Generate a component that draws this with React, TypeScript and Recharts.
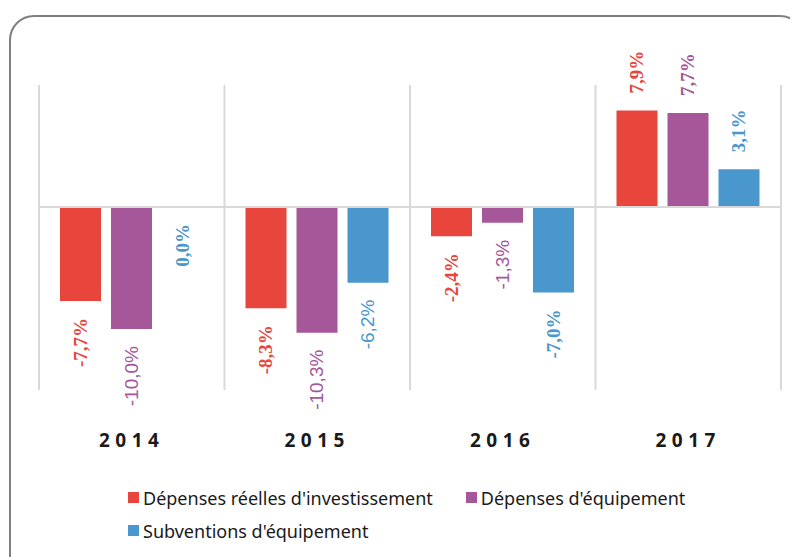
import React from "react";
import { BarChart, Bar, XAxis, YAxis, CartesianGrid, ReferenceLine, Legend, LabelList } from "recharts";

const years = ["2014", "2015", "2016", "2017"];
const depensesReelles = [-7.7, -8.3, -2.4, 7.9];
const depensesEquipement = [-10.0, -10.3, -1.3, 7.7];
const subventions = [0.0, -6.2, -7.0, 3.1];
const seriesNames = ["Dépenses réelles d'investissement", "Dépenses d'équipement", "Subventions d'équipement"];
const seriesColors = ["#E8453C", "#A5579A", "#4A97CE"];
// labels that the original draws in a sans-serif face
const sansLabelKeys = ["s1-2014", "s1-2015", "s2-2015", "s1-2016"];

const data = years.map((y, i) => ({
  year: y,
  s0: depensesReelles[i],
  s1: depensesEquipement[i],
  s2: subventions[i],
}));

const fmt = (v: number) => v.toFixed(1).replace(".", ",") + "%";

const makeLabel = (key: string, color: string) => (props: any) => {
  const { x, y, width, height, value, index } = props;
  const top = Math.min(y, y + height);
  const bottom = Math.max(y, y + height);
  const cx = x + width / 2;
  const pos = value > 0;
  const ty = pos ? top - 17 : bottom + 17;
  const sans = sansLabelKeys.includes(`${key}-${years[index]}`);
  return (
    <text
      x={cx}
      y={ty}
      fill={color}
      fontFamily={sans ? "'Liberation Sans', Arial, sans-serif" : "'Liberation Serif', 'Times New Roman', serif"}
      fontWeight={sans ? "normal" : "bold"}
      fontSize={19}
      textAnchor={pos ? "start" : "end"}
      dominantBaseline="central"
      transform={`rotate(-90, ${cx}, ${ty})`}
    >
      {fmt(value)}
    </text>
  );
};

const Tick = (props: any) => {
  const { x, y, payload } = props;
  return (
    <text
      x={x}
      y={y + 50}
      textAnchor="middle"
      dominantBaseline="central"
      fontFamily="'Noto Sans', sans-serif"
      fontWeight="bold"
      fontSize={19}
      letterSpacing={5.5}
      fill="#1a1a1a"
    >
      {payload.value}
    </text>
  );
};

const LegendContent = () => (
  <div
    style={{
      display: "flex",
      flexWrap: "wrap",
      width: 620,
      marginLeft: 89,
      fontFamily: "'Noto Sans', sans-serif",
      fontSize: 18,
      color: "#1a1a1a",
    }}
  >
    {seriesNames.map((n, i) => (
      <div key={n} style={{ display: "flex", alignItems: "center", height: 33, marginRight: 33 }}>
        <span style={{ width: 11, height: 11, background: seriesColors[i], marginRight: 4, display: "inline-block" }} />
        <span>{n}</span>
      </div>
    ))}
  </div>
);

export default function App() {
  return (
    <div style={{ position: "relative", width: 790, height: 549, overflow: "hidden" }}>
      <div
        style={{
          position: "absolute",
          left: 1,
          top: 7,
          width: 796,
          height: 620,
          border: "2px solid #7f7f7f",
          borderRadius: 25,
          boxSizing: "border-box",
        }}
      />
      <div style={{ position: "absolute", left: 0, top: 0 }}>
        <BarChart
          width={790}
          height={549}
          data={data}
          margin={{ top: 77, right: 17, left: 31, bottom: 10 }}
          barCategoryGap={21}
          barGap={10}
        >
          <CartesianGrid
            horizontal={false}
            stroke="#d9d9d9"
            strokeWidth={2}
            verticalCoordinatesGenerator={({ offset }: any) =>
              [0, 1, 2, 3, 4].map((i) => offset.left + (i * offset.width) / years.length)
            }
          />
          <XAxis
            dataKey="year"
            axisLine={false}
            tickLine={false}
            tickSize={0}
            tickMargin={0}
            height={91}
            tick={<Tick />}
            interval={0}
          />
          <YAxis hide domain={[-15, 10]} type="number" />
          <Legend verticalAlign="bottom" content={<LegendContent />} />
          <Bar dataKey="s0" name={seriesNames[0]} fill={seriesColors[0]} isAnimationActive={false}>
            <LabelList dataKey="s0" content={makeLabel("s0", seriesColors[0])} />
          </Bar>
          <Bar dataKey="s1" name={seriesNames[1]} fill={seriesColors[1]} isAnimationActive={false}>
            <LabelList dataKey="s1" content={makeLabel("s1", seriesColors[1])} />
          </Bar>
          <Bar dataKey="s2" name={seriesNames[2]} fill={seriesColors[2]} minPointSize={0.5} isAnimationActive={false}>
            <LabelList dataKey="s2" content={makeLabel("s2", seriesColors[2])} />
          </Bar>
          <ReferenceLine y={0} stroke="#d9d9d9" strokeWidth={2} />
        </BarChart>
      </div>
    </div>
  );
}
